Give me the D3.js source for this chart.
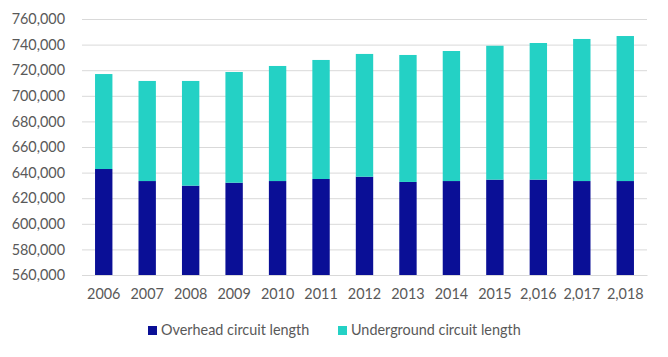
<!DOCTYPE html>
<html><head><meta charset="utf-8">
<script src="https://cdn.jsdelivr.net/npm/d3@7"></script>
<style>body{margin:0;background:#fff;}svg{display:block;font-family:Lato,"Open Sans",sans-serif;}</style>
</head><body><svg id="c" width="668" height="357"></svg>
<script>
const categories = ["2006","2007","2008","2009","2010","2011","2012","2013","2014","2015","2,016","2,017","2,018"];
const overhead = [642800,633400,629800,632100,633400,635000,636800,632700,633400,634500,634500,633400,633400];
const underground = [74200,78200,81800,86500,89900,93000,95900,99200,101600,104600,106750,111000,113300];
const yTicks = [560000,580000,600000,620000,640000,660000,680000,700000,720000,740000,760000];
const seriesNames = ["Overhead circuit length","Underground circuit length"];
const colors = ["#0a0f96","#24d1c5"];

const svg = d3.select("#c");
const fs = "14.4px";
const x = d3.scaleBand().domain(categories).range([82,647]).paddingInner(0.6).paddingOuter(0.3);
const y = d3.scaleLinear().domain([560000,760000]).range([275,19]);
const fmt = d3.format(",");

const yAxis = d3.axisLeft(y).tickValues(yTicks).tickFormat(fmt).tickSize(-(647-82)).tickPadding(17);
const gy = svg.append("g").attr("transform","translate(82,0)").call(yAxis);
gy.select(".domain").remove();
gy.selectAll(".tick line").attr("stroke","#d9d9d9").attr("stroke-width",1);
gy.selectAll(".tick text").attr("fill","#595959").style("font-size",fs).style("font-family","Lato");

const data = categories.map((c,i)=>({c, o:overhead[i], u:underground[i]}));
svg.append("g").selectAll("rect.o").data(data).join("rect")
  .attr("x",d=>x(d.c)).attr("width",x.bandwidth())
  .attr("y",d=>y(d.o)).attr("height",d=>y(560000)-y(d.o)).attr("fill",colors[0]);
svg.append("g").selectAll("rect.u").data(data).join("rect")
  .attr("x",d=>x(d.c)).attr("width",x.bandwidth())
  .attr("y",d=>y(d.o+d.u)).attr("height",d=>y(d.o)-y(d.o+d.u)).attr("fill",colors[1]);

const xAxis = d3.axisBottom(x).tickSize(0).tickPadding(14);
const gx = svg.append("g").attr("transform","translate(0,275)").call(xAxis);
gx.select(".domain").attr("stroke","#d9d9d9");
gx.selectAll(".tick text").attr("fill","#595959").style("font-size",fs).style("font-family","Lato");

const legX = [148,338];
const lg = svg.append("g");
seriesNames.forEach((n,i)=>{
  lg.append("rect").attr("x",legX[i]).attr("y",326).attr("width",9).attr("height",9).attr("fill",colors[i]);
  lg.append("text").attr("x",legX[i]+13).attr("y",335).attr("fill","#595959").style("font-size",fs).text(n);
});
</script></body></html>
